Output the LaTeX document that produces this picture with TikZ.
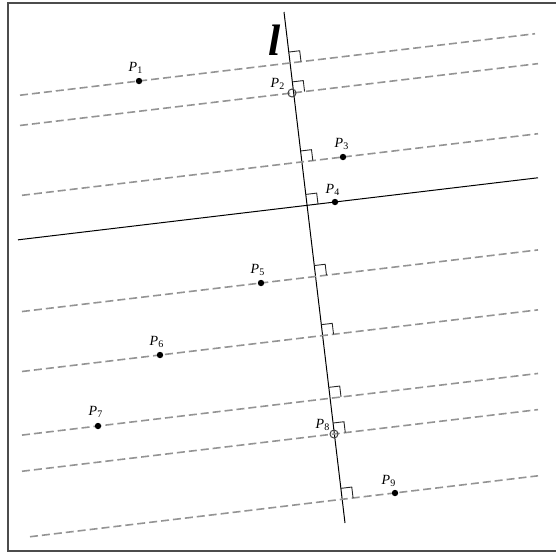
\documentclass[tikz,border=0pt]{standalone}
\usepackage{fontspec}
\setmainfont{Liberation Serif}
\usetikzlibrary{calc}

\tikzset{
  frameline/.style={draw=black!70,line width=0.75pt},
  axisline/.style={draw=black,line width=0.5pt},
  guide/.style={draw=black!42,line width=0.8pt,dash pattern=on 4pt off 2pt},
  base/.style={draw=black,line width=0.5pt},
  rightang/.style={draw=black!85,line width=0.45pt},
  dotpt/.style={fill=black,radius=1.6pt},
  ringpt/.style={draw=black!75,line width=0.5pt,radius=2pt},
  ptlabel/.style={anchor=base,inner sep=0pt,font=\fontsize{7}{8}\selectfont}
}

\begin{document}
\begin{tikzpicture}[x=0.5pt,y=-0.5pt]
\useasboundingbox (0,0) rectangle (556,554);
% frame, open on the right
\draw[frameline] (556,3) -- (8,3) -- (8,551) -- (556,551);
% the line l
\coordinate (A) at (284,12);
\coordinate (B) at (345,523);
\draw[axisline] (A) -- (B);
\node[inner sep=0pt,font=\fontsize{22}{22}\selectfont] (lname) at (275,40) {\textbf{\textit{l}}};
% perpendiculars through the points: k / x / y / left end / right end / label shift / style / point
\foreach \k/\px/\py/\xl/\xr/\lx/\ly/\st/\kind in {
    1/139/81/20/535/-3/-10/guide/dotpt,
    2/292/93/20/538/-14/-6/guide/ringpt,
    3/343/157/22/538/-1/-10/guide/dotpt,
    4/335/202/18/538/-2/-9/base/dotpt,
    5/261/283/22/538/-3/-10/guide/dotpt,
    6/160/355/22/538/-3/-10/guide/dotpt,
    7/98/426/22/538/-2/-11/guide/dotpt,
    8/334/434/22/538/-11/-6/guide/ringpt,
    9/395/493/30/538/-6/-9/guide/dotpt}{
  \coordinate (P\k) at (\px,\py);
  \coordinate (F\k) at ($(A)!(P\k)!(B)$);
  \coordinate (R\k) at ($(F\k)!10pt!90:(B)$);
  \draw[\st] let \p1=(F\k), \p2=(R\k) in
    ($(F\k)!{scalar((\xl*0.5pt-\x1)/(\x2-\x1))}!(R\k)$) -- ($(F\k)!{scalar((\xr*0.5pt-\x1)/(\x2-\x1))}!(R\k)$);
  % right angle mark
  \coordinate (a\k) at ($(F\k)!5.5pt!(A)$);
  \coordinate (b\k) at ($(F\k)!5.5pt!90:(B)$);
  \draw[rightang] (a\k) -- ($(a\k)+(b\k)-(F\k)$) -- (b\k);
  \path[\kind] (P\k) circle;
  \node[ptlabel] (L\k) at ($(P\k)+(\lx,\ly)$) {\textit{P}\textsubscript{\k}};
}
\end{tikzpicture}
\end{document}
